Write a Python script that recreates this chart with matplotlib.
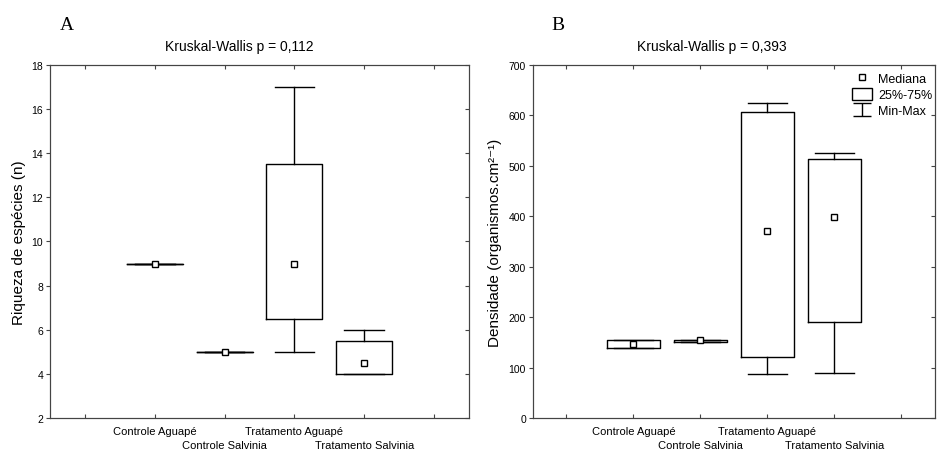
import matplotlib
matplotlib.use('Agg')
import matplotlib.pyplot as plt
import matplotlib.transforms as mtransforms
import numpy as np
from matplotlib.patches import Rectangle
from matplotlib.lines import Line2D

plt.rcParams['font.family'] = ['Liberation Sans', 'DejaVu Sans']

groups = ['Controle Aguapé', 'Controle Salvinia', 'Tratamento Aguapé', 'Tratamento Salvinia']

# A - riqueza
riq_min = [9, 5, 5, 4]
riq_q1 = [9, 5, 6.5, 4]
riq_med = [9, 5, 9, 4.5]
riq_q3 = [9, 5, 13.5, 5.5]
riq_max = [9, 5, 17, 6]
riq_ticks = np.arange(2, 19, 2)

# B - densidade
dens_min = [139, 151, 87, 89]
dens_q1 = [139, 151, 120, 191]
dens_med = [147, 154, 371, 398]
dens_q3 = [155, 155, 606, 513]
dens_max = [155, 155, 624, 525]
dens_ticks = np.arange(0, 701, 100)

spine_col = '#444444'


def box_stats(lo, q1, med, q3, hi):
    return [dict(whislo=a, q1=b, med=c, q3=d, whishi=e, fliers=[])
            for a, b, c, d, e in zip(lo, q1, med, q3, hi)]


def draw_panel(fig, ax, stats, med, yticks, ylabel, title, title_x, lab_x):
    pos = np.arange(1, len(groups) + 1)
    lp = dict(color='k', lw=1)
    ax.bxp(stats, positions=pos, widths=0.8, capwidths=0.57, showfliers=False,
           manage_ticks=False, boxprops=lp, whiskerprops=lp, capprops=lp,
           medianprops=dict(visible=False))
    ax.plot(pos, med, 's', ms=4.3, mfc='white', mec='k', mew=1, zorder=5)

    ax.set_xlim(-0.5, len(groups) + 1.5)
    ax.set_ylim(yticks[0], yticks[-1])
    ax.set_xticks(np.arange(0, len(groups) + 2))
    ax.set_xticklabels([''] + groups + [''], fontsize=8)
    ax.tick_params(axis='x', direction='in', length=3, top=True, pad=6, color=spine_col)
    # stagger every second category label one line down
    shift = mtransforms.ScaledTranslation(0, -13.5 / 100, fig.dpi_scale_trans)
    for i, lab in enumerate(ax.get_xticklabels()):
        if i in (2, 4):
            lab.set_transform(lab.get_transform() + shift)
    ax.set_yticks(yticks)
    ax.tick_params(axis='y', direction='out', length=3, labelsize=7.5, pad=2, color=spine_col)
    for s in ax.spines.values():
        s.set_color(spine_col)

    ax2 = ax.twinx()
    ax2.set_ylim(ax.get_ylim())
    ax2.set_yticks(yticks)
    ax2.tick_params(axis='y', direction='in', length=3, labelright=False, color=spine_col)
    for s in ax2.spines.values():
        s.set_color(spine_col)

    ax.set_ylabel(ylabel, fontsize=11)
    ax.yaxis.set_label_coords(lab_x, 0.5)
    ax.text(title_x, 1.054, title, transform=ax.transAxes, ha='center', va='center',
            fontsize=10)
    return ax2


fig = plt.figure(figsize=(9.39, 4.52), dpi=100)
axA = fig.add_axes([0.0532, 0.073, 0.4463, 0.781])
axB = fig.add_axes([0.5676, 0.073, 0.4281, 0.781])

draw_panel(fig, axA, box_stats(riq_min, riq_q1, riq_med, riq_q3, riq_max), riq_med,
           riq_ticks, 'Riqueza de espécies (n)', 'Kruskal-Wallis p = 0,112', 0.451, -0.058)
axB2 = draw_panel(fig, axB, box_stats(dens_min, dens_q1, dens_med, dens_q3, dens_max), dens_med,
                  dens_ticks, 'Densidade (organismos.cm²⁻¹)', 'Kruskal-Wallis p = 0,393',
                  0.445, -0.078)

# legend
h_med = Line2D([], [], ls='none', marker='s', ms=4.3, mfc='white', mec='k', mew=1)
h_box = Rectangle((0, 0), 1, 1, fc='white', ec='k', lw=1)
h_rng = axB.errorbar([np.nan], [np.nan], yerr=[1], fmt='none', ecolor='k',
                     elinewidth=1, capsize=6.5, capthick=1)
axB2.legend([h_med, h_box, h_rng], ['Mediana', '25%-75%', 'Min-Max'],
            loc='upper right', bbox_to_anchor=(1.012, 1.0), frameon=False,
            fontsize=9, handlelength=1.6, handleheight=1.0, handletextpad=0.5,
            labelspacing=0.25, borderaxespad=0.2)

fig.text(67 / 939, 1 - 25 / 452, 'A', family='Liberation Serif', fontsize=14,
         ha='center', va='center')
fig.text(558 / 939, 1 - 25 / 452, 'B', family='Liberation Serif', fontsize=14,
         ha='center', va='center')

fig.savefig('out.png', dpi=100)
